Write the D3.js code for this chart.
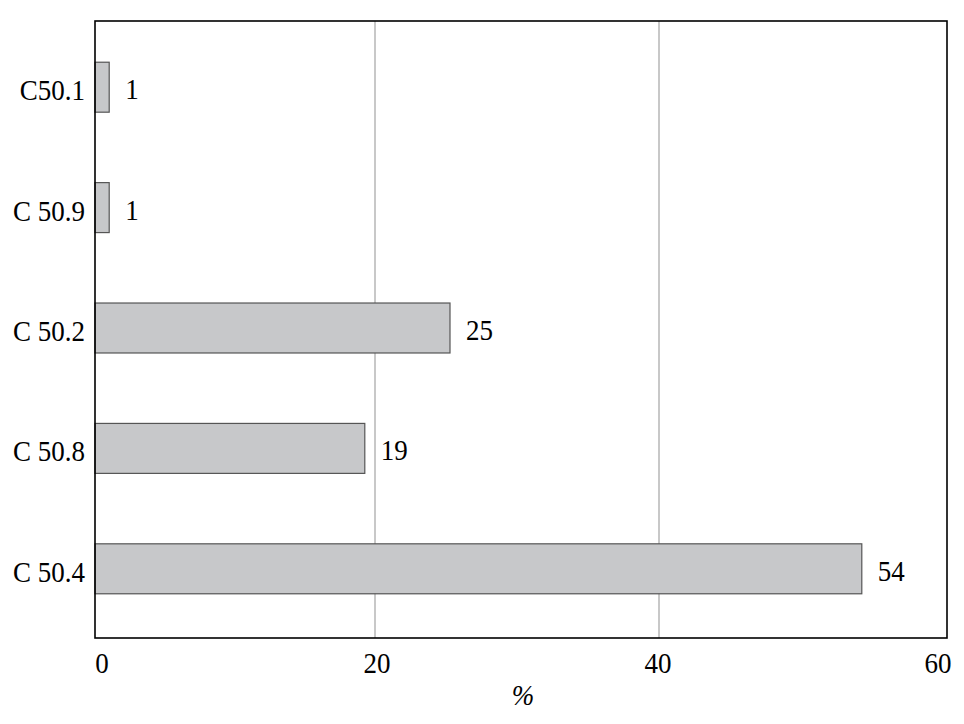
<!DOCTYPE html>
<html><head><meta charset="utf-8">
<script src="https://cdn.jsdelivr.net/npm/d3@7/dist/d3.min.js"></script>
<style>body{margin:0;background:#fff}</style>
</head><body><svg id="c" width="964" height="724"></svg>
<script>
const categories = ["C50.1", "C 50.9", "C 50.2", "C 50.8", "C 50.4"];
const values = [1, 1, 25, 19, 54];
const xTicks = [0, 20, 40, 60];
const xLabel = "%";

const svg = d3.select("#c");
const L = 95, R = 947, T = 21, B = 638;
const font = "'Liberation Serif', 'Times New Roman', serif";
const FS = 30, SX = 0.9;
const x = d3.scaleLinear().domain([0, 60]).range([L, R]);
const y = d3.scaleBand().domain(categories).range([27, 629]).paddingInner(0.585).paddingOuter(0.2925);

function txt(sel) {
  return sel.attr("font-family", font).attr("font-size", FS).attr("fill", "#000")
    .attr("dominant-baseline", "central");
}

// gridlines
svg.append("g").selectAll("line").data(xTicks.filter(t => t > 0 && t < 60)).join("line")
  .attr("x1", d => x(d) - 4).attr("x2", d => x(d) - 4).attr("y1", T).attr("y2", B)
  .attr("stroke", "#c8c8c8").attr("stroke-width", 2);

// bars
svg.append("g").selectAll("rect").data(values).join("rect")
  .attr("x", x(0)).attr("y", (d, i) => y(categories[i]))
  .attr("width", d => x(d) - x(0)).attr("height", y.bandwidth())
  .attr("fill", "#c7c8ca").attr("stroke", "#555").attr("stroke-width", 1.2);

// value labels
svg.append("g").selectAll("text").data(values).join("text")
  .attr("transform", (d, i) => `translate(${x(d) + 16},${y(categories[i]) + y.bandwidth() / 2 + 2}) scale(${SX},1)`)
  .call(txt)
  .text(d => d);

// frame
svg.append("rect").attr("x", L).attr("y", T).attr("width", R - L).attr("height", B - T)
  .attr("fill", "none").attr("stroke", "#000").attr("stroke-width", 1.6);

// y labels
svg.append("g").selectAll("text").data(categories).join("text")
  .attr("transform", d => `translate(${L - 10},${y(d) + y.bandwidth() / 2 + 3}) scale(${SX},1)`)
  .attr("text-anchor", "end").call(txt)
  .text(d => d);

// x tick labels
svg.append("g").selectAll("text").data(xTicks).join("text")
  .attr("transform", (d, i) => `translate(${x(d) + [7, -2, -5, -9][i]},663) scale(${SX},1)`)
  .attr("text-anchor", "middle").call(txt)
  .text(d => d);

svg.append("text")
  .attr("transform", `translate(${(L + R) / 2 + 2},695) scale(${SX},1)`)
  .attr("text-anchor", "middle").call(txt).attr("font-style", "italic")
  .text(xLabel);
</script></body></html>
